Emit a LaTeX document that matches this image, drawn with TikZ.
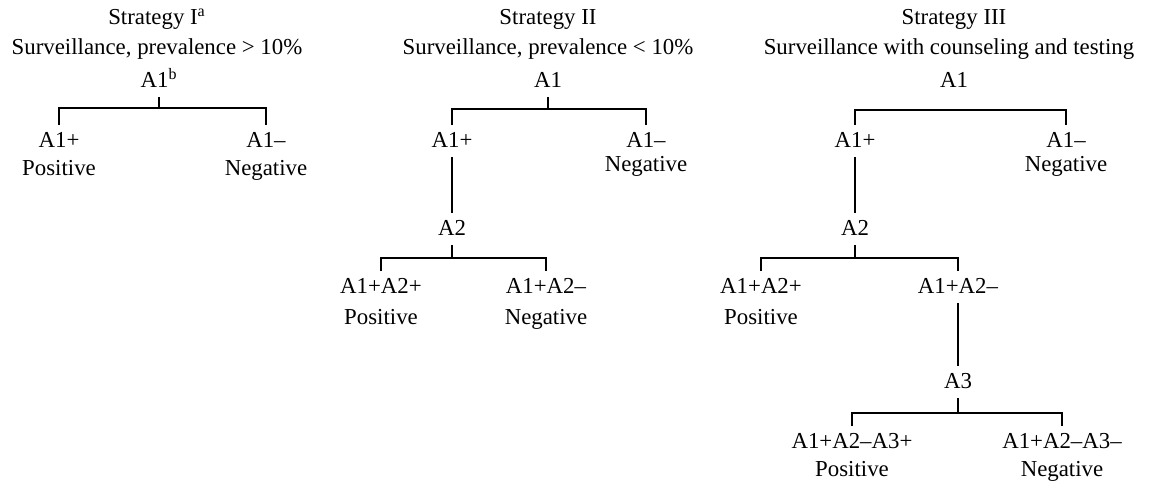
\documentclass[tikz,border=0pt]{standalone}
\usepackage{fontspec}
\setmainfont{Liberation Serif}
\usetikzlibrary{calc,positioning}

\begin{document}
\begin{tikzpicture}[x=0.02cm, y=-0.02cm, node distance=0.58cm, line width=1pt,
        lbl/.style={anchor=base, font=\fontsize{13}{15}\selectfont, inner xsep=1pt,
            inner ysep=3.4pt, text height=8.6pt, text depth=1.7pt}]
        \useasboundingbox (0,0) rectangle (1157,487);

        % Strategy I
        \node[lbl] (t1) at (157,24) {Strategy I\textsuperscript{a}};
        \node[lbl] (d1) at (157,54) {Surveillance, prevalence > 10\%};
        \node[lbl] (r1) at (159,87) {A1\textsuperscript{b}};
        \node[lbl] (p1) at (59,147) {A1+};
        \node[lbl] (n1) at (266,147) {A1--};
        \node[lbl] (pos1) [below of=p1] {Positive};
        \node[lbl] (neg1) [below of=n1] {Negative};
        \coordinate (j1) at (r1.south |- 0,108);

        \draw (r1.south) -- (j1);
        \draw (p1.north) |- (j1) -| (n1.north);

        % Strategy II
        \node[lbl] (t2) at (548,24) {Strategy II};
        \node[lbl] (d2) at (548,54) {Surveillance, prevalence < 10\%};
        \node[lbl] (r2) at (548,87) {A1};
        \node[lbl] (p2) at (452,147) {A1+};
        \node[lbl] (n2) at (646,147) {A1--};
        \node[lbl] (neg2) [below of=n2, node distance=0.5cm] {Negative};
        \node[lbl] (q2) at (452,235) {A2};
        \node[lbl] (p3) at (381,293) {A1+A2+};
        \node[lbl] (n3) at (546,293) {A1+A2--};
        \node[lbl] (pos3) [below of=p3, node distance=0.64cm] {Positive};
        \node[lbl] (neg3) [below of=n3, node distance=0.64cm] {Negative};
        \coordinate (j2) at (r2.south |- 0,109);
        \coordinate (j3) at (q2.south |- 0,258);

        \draw (r2.south) -- (j2);
        \draw (p2.north) |- (j2) -| (n2.north);
        \draw (p2.south) -- (q2.north);
        \draw (q2.south) -- (j3);
        \draw (p3.north) |- (j3) -| (n3.north);

        % Strategy III
        \node[lbl] (t3) at (954,24) {Strategy III};
        \node[lbl] (d3) at (949,54) {Surveillance with counseling and testing};
        \node[lbl] (r3) at (954,87) {A1};
        \node[lbl] (p4) at (855,147) {A1+};
        \node[lbl] (n4) at (1066,147) {A1--};
        \node[lbl] (neg4) [below of=n4, node distance=0.5cm] {Negative};
        \node[lbl] (q4) at (855,235) {A2};
        \node[lbl] (p5) at (761,293) {A1+A2+};
        \node[lbl] (n5) at (958,293) {A1+A2--};
        \node[lbl] (pos5) [below of=p5, node distance=0.64cm] {Positive};
        \node[lbl] (q5) at (958,388) {A3};
        \node[lbl] (p6) at (852,448) {A1+A2--A3+};
        \node[lbl] (n6) at (1062,448) {A1+A2--A3--};
        \node[lbl] (pos6) [below of=p6] {Positive};
        \node[lbl] (neg6) [below of=n6] {Negative};
        \coordinate (j4) at (r3.south |- 0,110);
        \coordinate (j5) at (q4.south |- 0,258);
        \coordinate (j6) at (q5.south |- 0,413);

        \draw (p4.north) |- (j4) -| (n4.north);
        \draw (p4.south) -- (q4.north);
        \draw (q4.south) -- (j5);
        \draw (p5.north) |- (j5) -| (n5.north);
        \draw (n5.south) -- (q5.north);
        \draw (q5.south) -- (j6);
        \draw (p6.north) |- (j6) -| (n6.north);
    \end{tikzpicture}
\end{document}
